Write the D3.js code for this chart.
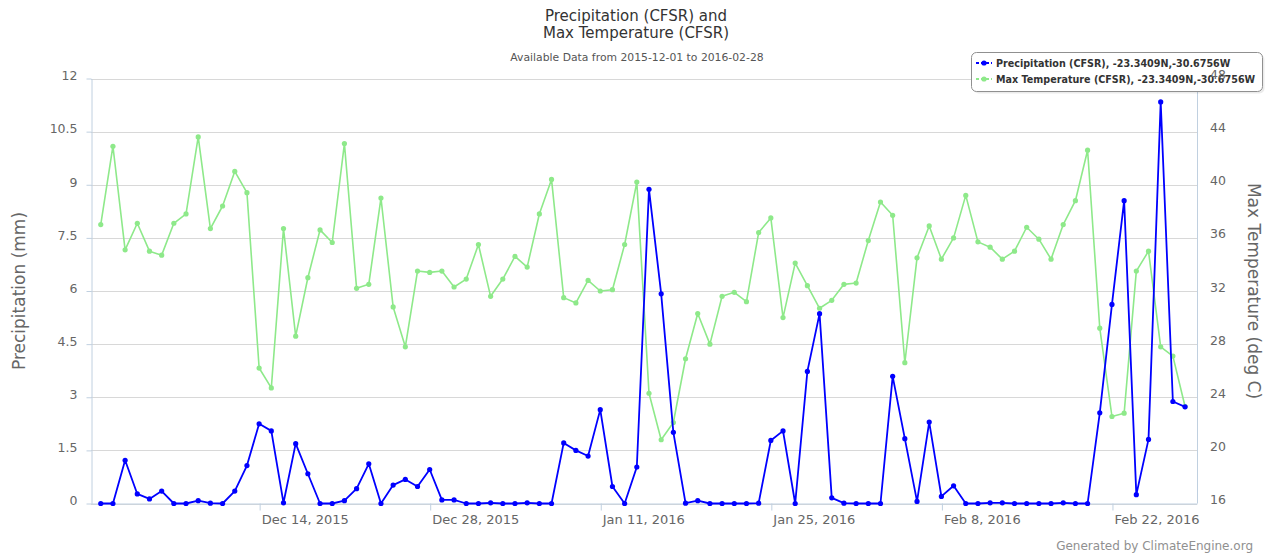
<!DOCTYPE html>
<html><head><meta charset="utf-8">
<script src="https://cdn.jsdelivr.net/npm/d3@7"></script>
<style>
body{margin:0;background:#fff}
svg{display:block;font-family:"DejaVu Sans",sans-serif}
</style>
</head><body>
<svg id="chart" width="1271" height="554"></svg>
<script>
// ---- data ----
const startDate = "2015-12-01";
const precipitation = [0,0,1.22,0.27,0.13,0.35,0,0,0.08,0.01,
  0,0.35,1.07,2.25,2.05,0.02,1.69,0.84,0,0,
  0.08,0.42,1.12,0,0.52,0.68,0.48,0.96,0.10,0.10,
  0,0,0.02,0,0,0.02,0,0,1.71,1.50,
  1.34,2.65,0.48,0,1.03,8.87,5.92,2.01,0.01,0.08,
  0,0,0,0,0.01,1.78,2.05,0,3.73,5.36,
  0.16,0.01,0,0,0,3.59,1.83,0.06,2.30,0.20,
  0.50,0,0,0.02,0.02,0,0,0,0,0.02,
  0,0,2.56,5.62,8.55,0.25,1.81,11.34,2.88,2.73];
const maxTemperature = [37.0,42.9,35.1,37.1,35.0,34.7,37.1,37.8,43.6,36.7,
  38.4,41.0,39.4,26.2,24.7,36.7,28.6,33.0,36.6,35.65,
  43.1,32.2,32.5,39.0,30.8,27.8,33.5,33.4,33.5,32.3,
  32.9,35.5,31.6,32.9,34.6,33.8,37.8,40.4,31.5,31.1,
  32.8,32.0,32.1,35.5,40.2,24.3,20.8,22.1,26.9,30.3,
  28.0,31.6,31.9,31.2,36.4,37.5,30.0,34.1,32.4,30.7,
  31.3,32.5,32.6,35.8,38.7,37.7,26.6,34.5,36.9,34.4,
  36.0,39.2,35.7,35.3,34.4,35.0,36.8,35.9,34.4,37.0,
  38.8,42.6,29.2,22.55,22.8,33.5,35.0,27.8,27.1,23.3];
const precipTicks = [0,1.5,3,4.5,6,7.5,9,10.5,12];
const tempTicks = [16,20,24,28,32,36,40,44,48];
const dateTicks = ["2015-12-14","2015-12-28","2016-01-11","2016-01-25","2016-02-08","2016-02-22"];
const seriesNames = ["Precipitation (CFSR), -23.3409N,-30.6756W",
                     "Max Temperature (CFSR), -23.3409N,-30.6756W"];
const titleLines = ["Precipitation (CFSR) and","Max Temperature (CFSR)"];
const subtitle = "Available Data from 2015-12-01 to 2016-02-28";
const leftTitle = "Precipitation (mm)";
const rightTitle = "Max Temperature (deg C)";
const credit = "Generated by ClimateEngine.org";

// ---- layout ----
const W = 1271, H = 554;
const L = 91, R = 1197, T = 78.5, B = 503.5;
const blue = "#0000ff", green = "#8ee98a";
const axisCol = "#c0d0e0", gridCol = "#d8d8d8", labelCol = "#666666";

const parse = d3.utcParse("%Y-%m-%d");
const d0 = parse(startDate);
const dates = precipitation.map((_, i) => d3.utcDay.offset(d0, i));
const DAY = 864e5;
const x = d3.scaleUtc()
  .domain([new Date(+dates[0] - 0.8*DAY), new Date(+dates[dates.length-1] + 0.98*DAY)])
  .range([L, R]);
const yP = d3.scaleLinear().domain([0,12]).range([B, T]);
const yT = d3.scaleLinear().domain([16,48]).range([B, T]);

const svg = d3.select("#chart");

// gridlines
svg.append("g").selectAll("line").data(precipTicks).join("line")
  .attr("x1", L).attr("x2", R)
  .attr("y1", d => Math.round(yP(d)) + 0.5).attr("y2", d => Math.round(yP(d)) + 0.5)
  .attr("stroke", gridCol).attr("stroke-width", 1);

// x axis
const fmt = d3.utcFormat("%b %-d, %Y");
const xAxis = svg.append("g").attr("transform", `translate(0,${B})`)
  .call(d3.axisBottom(x).tickValues(dateTicks.map(parse)).tickSize(7).tickSizeOuter(0).tickFormat(fmt));
xAxis.select(".domain").attr("stroke", axisCol);
xAxis.selectAll(".tick line").attr("stroke", axisCol).attr("transform", "translate(0.5,0)");
xAxis.selectAll(".tick text").attr("text-anchor", "start").attr("x", 2).attr("y", 11)
  .attr("dy", "0.71em").attr("fill", labelCol).attr("font-size", 13).attr("font-family", "DejaVu Sans");

// left axis
const yAxisL = svg.append("g").attr("transform", `translate(${L + 0.5},0)`)
  .call(d3.axisLeft(yP).tickValues(precipTicks).tickSize(5).tickSizeOuter(0).tickFormat(d3.format("~g")));
yAxisL.select(".domain").attr("stroke", axisCol);
yAxisL.selectAll(".tick line").attr("stroke", axisCol);
yAxisL.selectAll(".tick text").attr("x", -14).attr("dy", "0.1em").attr("fill", labelCol)
  .attr("font-size", 12.5).attr("font-family", "DejaVu Sans");

// right axis line
svg.append("line").attr("x1", R + 0.5).attr("x2", R + 0.5).attr("y1", T).attr("y2", B)
  .attr("stroke", axisCol);

// series
function drawSeries(values, yScale, color, width) {
  const g = svg.append("g");
  g.append("path").datum(values)
    .attr("fill", "none").attr("stroke", color).attr("stroke-width", width)
    .attr("stroke-linejoin", "round")
    .attr("d", d3.line().x((d, i) => x(dates[i])).y(d => yScale(d)));
  g.selectAll("circle").data(values).join("circle")
    .attr("cx", (d, i) => x(dates[i])).attr("cy", d => yScale(d))
    .attr("r", 2.6).attr("fill", color);
}
drawSeries(maxTemperature, yT, green, 1.6);
drawSeries(precipitation, yP, blue, 1.8);

// titles
const title = svg.append("text").attr("text-anchor", "middle").attr("fill", "#333333")
  .attr("font-size", 15);
titleLines.forEach((t, i) => title.append("tspan").attr("x", 636).attr("y", 21 + i * 17).text(t));
svg.append("text").attr("x", 637).attr("y", 61).attr("text-anchor", "middle")
  .attr("fill", "#555555").attr("font-size", 10.8).text(subtitle);

// axis titles
svg.append("text").attr("transform", `translate(25,${(T + B) / 2}) rotate(-90)`)
  .attr("text-anchor", "middle").attr("fill", labelCol).attr("font-size", 17).text(leftTitle);
svg.append("text").attr("transform", `translate(1248,${(T + B) / 2}) rotate(90)`)
  .attr("text-anchor", "middle").attr("fill", labelCol).attr("font-size", 17).text(rightTitle);

// legend
const lg = svg.append("g");
lg.append("rect").attr("x", 973.5).attr("y", 54.5).attr("width", 291).attr("height", 39)
  .attr("rx", 5).attr("fill", "#000").attr("opacity", 0.08);
lg.append("rect").attr("x", 971.5).attr("y", 52.5).attr("width", 291).attr("height", 39)
  .attr("rx", 5).attr("fill", "#fff").attr("stroke", "#909090").attr("stroke-width", 1);
[blue, green].forEach((c, i) => {
  const yy = 63 + i * 16;
  lg.append("line").attr("x1", 976).attr("x2", 992).attr("y1", yy).attr("y2", yy)
    .attr("stroke", c).attr("stroke-width", 1.8).attr("stroke-dasharray", "3,2");
  lg.append("circle").attr("cx", 984).attr("cy", yy).attr("r", 2.6).attr("fill", c);
  lg.append("text").attr("x", 996).attr("y", yy + 3.5).attr("font-size", 9.6)
    .attr("font-weight", "bold").attr("fill", "#333333").text(seriesNames[i]);
});

// right axis labels (drawn last, as in reference they overlap the legend)
svg.append("g").selectAll("text").data(tempTicks).join("text")
  .attr("x", 1210).attr("y", d => yT(d) + 0.5).attr("fill", labelCol).attr("font-size", 12.5)
  .text(d => d);

// credit
svg.append("text").attr("x", 1253).attr("y", 550).attr("text-anchor", "end")
  .attr("fill", "#909090").attr("font-size", 12).text(credit);
</script>
</body></html>
